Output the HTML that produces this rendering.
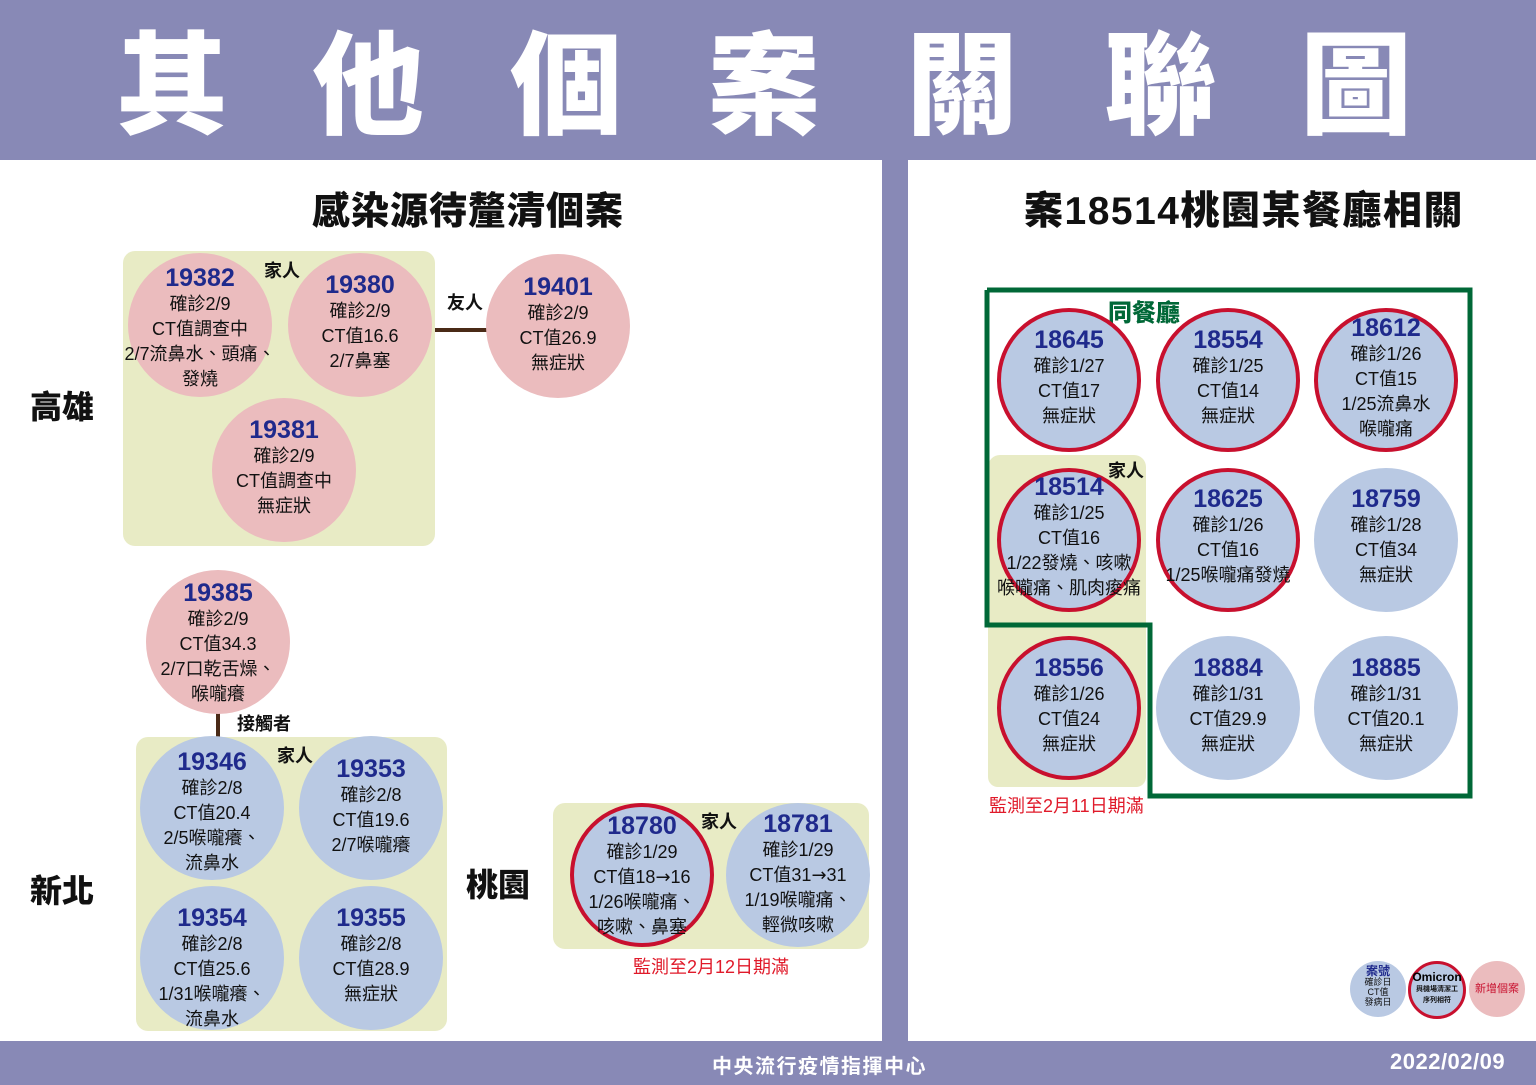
<!DOCTYPE html>
<html><head><meta charset="utf-8"><style>
*{margin:0;padding:0;box-sizing:border-box}
body{width:1536px;height:1085px;position:relative;background:#fff;overflow:hidden;font-family:"Liberation Sans","Noto Sans CJK TC",sans-serif;color:#111}
.a{position:absolute}
.hdr{left:0;top:0;width:1536px;height:160px;background:#8889b6}
.ttl{top:22px;font-size:112px;font-weight:900;color:#fff;width:130px;text-align:center;line-height:130px}
.bar{left:0;top:1041px;width:1536px;height:44px;background:#8889b6}
.div{left:882px;top:160px;width:26px;height:890px;background:#8889b6}
.bx{background:#e8ebc5;border-radius:12px}
.c{position:absolute;width:144px;height:144px;border-radius:50%;display:flex;flex-direction:column;align-items:center;font-size:18px;line-height:25px;text-align:center;white-space:nowrap}
.b{background:#b9c9e3}.p{background:#ebbcbe}.r{border:4px solid #c8102e}
.c b{font-size:25px;line-height:28px;color:#1f2a8c;font-weight:bold}
.lb{font-weight:bold;font-size:18px}
.big{font-weight:900;font-size:32px}
.h2{font-weight:900;font-size:38px;top:180px}
.red{color:#e01a2a;font-size:18px}
.ar{font-family:"DejaVu Sans",sans-serif;font-size:18px}
</style></head><body>
<div class="a hdr"></div>
<div class="a ttl" style="left:107px">其</div>
<div class="a ttl" style="left:303px">他</div>
<div class="a ttl" style="left:501px">個</div>
<div class="a ttl" style="left:699px">案</div>
<div class="a ttl" style="left:897px">關</div>
<div class="a ttl" style="left:1095px">聯</div>
<div class="a ttl" style="left:1291px">圖</div>
<div class="a div"></div>
<div class="a h2" style="left:312px;letter-spacing:1px">感染源待釐清個案</div>
<div class="a h2" style="left:1024px;font-size:39px;letter-spacing:1.5px">案18514桃園某餐廳相關</div>

<div class="a bx" style="left:123px;top:251px;width:312px;height:295px"></div>
<div class="a bx" style="left:136px;top:737px;width:311px;height:294px"></div>
<div class="a bx" style="left:553px;top:803px;width:316px;height:146px"></div>
<div class="a bx" style="left:988px;top:455px;width:158px;height:332px;border-radius:12px 12px 10px 10px"></div>
<svg class="a" style="left:0;top:0" width="1536" height="1085"><polyline points="987,290 1470,290 1470,796 1150,796 1150,625 987,625 987,290" fill="none" stroke="#006837" stroke-width="5"/>
<line x1="435" y1="330" x2="487" y2="330" stroke="#4a2a17" stroke-width="4"/>
<line x1="218" y1="712" x2="218" y2="737" stroke="#4a2a17" stroke-width="4"/></svg>

<div class="a big" style="left:30px;top:382px">高雄</div>
<div class="a big" style="left:30px;top:866px">新北</div>
<div class="a big" style="left:466px;top:860px">桃園</div>
<div class="a lb" style="left:264px;top:257px">家人</div>
<div class="a lb" style="left:447px;top:289px">友人</div>
<div class="a lb" style="left:237px;top:710px">接觸者</div>
<div class="a lb" style="left:277px;top:742px">家人</div>
<div class="a lb" style="left:701px;top:808px">家人</div>
<div class="a lb" style="left:1108px;top:457px">家人</div>
<div class="a" style="left:1108px;top:293px;font-size:24px;font-weight:900;color:#006837">同餐廳</div>
<div class="a red" style="left:633px;top:953px">監測至2月12日期滿</div>
<div class="a red" style="left:989px;top:792px">監測至2月11日期滿</div>

<div class="c p" style="left:128px;top:253px;padding-top:11px"><b>19382</b>確診2/9<br>CT值調查中<span>2/7流鼻水、頭痛、</span>發燒</div>
<div class="c p" style="left:288px;top:253px;padding-top:18px"><b>19380</b>確診2/9<span>CT值16.6</span>2/7鼻塞</div>
<div class="c p" style="left:486px;top:254px;padding-top:19px"><b>19401</b>確診2/9<span>CT值26.9</span>無症狀</div>
<div class="c p" style="left:212px;top:398px;padding-top:18px"><b>19381</b>確診2/9<span>CT值調查中</span>無症狀</div>
<div class="c p" style="left:146px;top:570px;padding-top:9px"><b>19385</b>確診2/9<span>CT值34.3</span><span>2/7口乾舌燥、</span>喉嚨癢</div>
<div class="c b" style="left:140px;top:736px;padding-top:12px"><b>19346</b>確診2/8<span>CT值20.4</span><span>2/5喉嚨癢、</span>流鼻水</div>
<div class="c b" style="left:299px;top:736px;padding-top:19px"><b>19353</b>確診2/8<span>CT值19.6</span><span>2/7喉嚨癢</span></div>
<div class="c b" style="left:140px;top:886px;padding-top:18px"><b>19354</b>確診2/8<span>CT值25.6</span><span>1/31喉嚨癢、</span>流鼻水</div>
<div class="c b" style="left:299px;top:886px;padding-top:18px"><b>19355</b>確診2/8<span>CT值28.9</span>無症狀</div>
<div class="c b r" style="left:570px;top:803px;padding-top:5px"><b>18780</b>確診1/29<span>CT值18<span class="ar">→</span>16</span><span>1/26喉嚨痛、</span>咳嗽、鼻塞</div>
<div class="c b" style="left:726px;top:803px;padding-top:7px"><b>18781</b>確診1/29<span>CT值31<span class="ar">→</span>31</span><span>1/19喉嚨痛、</span>輕微咳嗽</div>

<div class="c b r" style="left:997px;top:308px;padding-top:14px"><b>18645</b>確診1/27<span>CT值17</span>無症狀</div>
<div class="c b r" style="left:1156px;top:308px;padding-top:14px"><b>18554</b>確診1/25<span>CT值14</span>無症狀</div>
<div class="c b r" style="left:1314px;top:308px;padding-top:2px"><b>18612</b>確診1/26<span>CT值15</span><span>1/25流鼻水</span>喉嚨痛</div>
<div class="c b r" style="left:997px;top:468px;padding-top:1px"><b>18514</b>確診1/25<span>CT值16</span><span>1/22發燒、咳嗽</span><span>喉嚨痛、肌肉痠痛</span></div>
<div class="c b r" style="left:1156px;top:468px;padding-top:13px"><b>18625</b>確診1/26<span>CT值16</span><span>1/25喉嚨痛發燒</span></div>
<div class="c b" style="left:1314px;top:468px;padding-top:17px"><b>18759</b>確診1/28<span>CT值34</span>無症狀</div>
<div class="c b r" style="left:997px;top:636px;padding-top:14px"><b>18556</b>確診1/26<span>CT值24</span>無症狀</div>
<div class="c b" style="left:1156px;top:636px;padding-top:18px"><b>18884</b>確診1/31<span>CT值29.9</span>無症狀</div>
<div class="c b" style="left:1314px;top:636px;padding-top:18px"><b>18885</b>確診1/31<span>CT值20.1</span>無症狀</div>

<div class="c b" style="left:1350px;top:961px;width:56px;height:56px;font-size:9px;line-height:10px;padding-top:4px"><b style="font-size:12px;line-height:12px">案號</b>確診日<br>CT值<br>發病日</div>
<div class="c b r" style="left:1408px;top:961px;width:58px;height:58px;border-width:3px;font-size:7px;line-height:11px;padding-top:6px;font-weight:bold"><span style="font-size:12px;line-height:14px;color:#000">Omicron</span>與機場清潔工<br>序列相符</div>
<div class="c p" style="left:1469px;top:961px;width:56px;height:56px;font-size:11px;color:#c8102e;justify-content:center">新增個案</div>

<div class="a bar"></div>
<div class="a" style="left:712px;top:1050px;color:#fff;font-weight:bold;font-size:20px;letter-spacing:1.5px">中央流行疫情指揮中心</div>
<div class="a" style="left:1390px;top:1049px;color:#fff;font-weight:bold;font-size:22px;letter-spacing:0.5px">2022/02/09</div>
</body></html>
